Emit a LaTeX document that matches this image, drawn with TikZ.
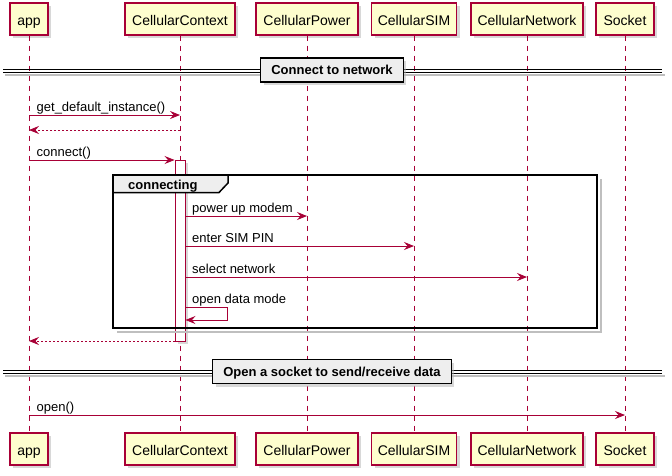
\documentclass[tikz,border=0pt]{standalone}
\usepackage{fontspec}
\setmainfont{Liberation Sans}
\usetikzlibrary{arrows.meta,shadows}
\definecolor{pborder}{HTML}{A80036}
\definecolor{pfill}{HTML}{FEFECE}
\definecolor{dfill}{HTML}{EEEEEE}
\begin{document}
\begin{tikzpicture}[x=1pt,y=-1pt,
  shad/.style={drop shadow={shadow xshift=3pt,shadow yshift=-3pt,fill=black!30}},
  part/.style={draw=pborder,fill=pfill,line width=1.1pt,minimum height=32pt,inner sep=0pt,
    text height=12.5pt,text depth=0pt,font=\fontsize{14}{16}\selectfont,shad},
  life/.style={draw=pborder,line width=0.8pt,dash pattern=on 5pt off 5pt},
  msg/.style={draw=pborder,line width=0.9pt,-{Stealth[length=10pt,width=8pt,inset=3.5pt]}},
  ret/.style={msg,dash pattern=on 2pt off 2pt},
  lbl/.style={anchor=base west,inner sep=0pt,font=\fontsize{13}{15}\selectfont},
  divbox/.style={draw=black,fill=dfill,line width=1.3pt,minimum height=24pt,inner xsep=10.5pt,inner ysep=0pt,
    text height=9.5pt,text depth=0pt,font=\bfseries\fontsize{13}{15}\selectfont,shad},
  dline/.style={draw=black,line width=0.9pt},
  dshadow/.style={draw=black!25,line width=1.5pt},
  act/.style={draw=pborder,fill=white,line width=0.9pt,minimum width=10pt,inner sep=0pt,shad}
]
\useasboundingbox (0,0) rectangle (672,475);

% participants (top)
\node[part,minimum width=38pt]  (pA)  at (29,19)  {app};
\node[part,minimum width=110pt] (pCC) at (180,19) {CellularContext};
\node[part,minimum width=102pt] (pCP) at (307,19) {CellularPower};
\node[part,minimum width=85pt]  (pCS) at (414,19) {CellularSIM};
\node[part,minimum width=112pt] (pCN) at (527,19) {CellularNetwork};
\node[part,minimum width=58pt]  (pSo) at (625,19) {Socket};
% participants (bottom)
\node[part,minimum width=38pt]  (bA)  at (29,449)  {app};
\node[part,minimum width=110pt] (bCC) at (180,449) {CellularContext};
\node[part,minimum width=102pt] (bCP) at (307,449) {CellularPower};
\node[part,minimum width=85pt]  (bCS) at (414,449) {CellularSIM};
\node[part,minimum width=112pt] (bCN) at (527,449) {CellularNetwork};
\node[part,minimum width=58pt]  (bSo) at (625,449) {Socket};

% lifelines
\foreach \t/\b in {pA/bA,pCC/bCC,pCP/bCP,pCS/bCS,pCN/bCN,pSo/bSo}
  \draw[life] (\t.south) -- (\b.north);

% divider 1
\draw[dshadow] (5,75) -- (665,75);
\draw[dline] (3,69.7) -- (662,69.7);
\draw[dline] (3,72.7) -- (662,72.7);
\node[divbox] (div1) at (332,70) {Connect to network};

% divider 2
\draw[dshadow] (5,376) -- (665,376);
\draw[dline] (3,370.7) -- (662,370.7);
\draw[dline] (3,373.7) -- (662,373.7);
\node[divbox] (div2) at (332,371.5) {Open a socket to send/receive data};

% activation
\node[act,minimum height=181pt] (act) at (180,250.5) {};

% group frame
\draw[draw=black!25,line width=2pt] (600.5,179) -- (600.5,331.5) -- (117,331.5);
\draw[line width=1.5pt] (113,175) rectangle (597,328);
\draw[line width=1.5pt,fill=dfill] (113,175) -- (228,175) -- (228,183) -- (219,192.5) -- (113,192.5) -- cycle;
\node[anchor=base west,inner sep=0pt,font=\bfseries\fontsize{13}{15}\selectfont] (gl) at (128,189.5) {connecting};

% message y positions
\coordinate (m1) at (0,115);
\coordinate (m2) at (0,130);
\coordinate (m3) at (0,160);
\coordinate (m4) at (0,216);
\coordinate (m5) at (0,246);
\coordinate (m6) at (0,277);
\coordinate (m7a) at (0,307);
\coordinate (m7b) at (0,320);
\coordinate (m8) at (0,341);
\coordinate (m9) at (0,415);

\draw[msg] (pA |- m1) -- (pCC |- m1);
\node[lbl] (l1) at (36.5,111) {get\_default\_instance()};
\draw[ret] (pCC |- m2) -- (pA |- m2);
\draw[msg] (pA |- m3) -- (act.west |- m3);
\node[lbl] (l3) at (36.5,156) {connect()};
\draw[msg] (act.east |- m4) -- (pCP |- m4);
\node[lbl] (l4) at (192,212) {power up modem};
\draw[msg] (act.east |- m5) -- (pCS |- m5);
\node[lbl] (l5) at (192,242) {enter SIM PIN};
\draw[msg] (act.east |- m6) -- (pCN |- m6);
\node[lbl] (l6) at (192,273) {select network};
\draw[msg] (act.east |- m7a) -- ++(42,0) |- (act.east |- m7b);
\node[lbl] (l7) at (192,303) {open data mode};
\draw[ret] (act.west |- m8) -- (pA |- m8);
\draw[msg] (pA |- m9) -- (pSo |- m9);
\node[lbl] (l9) at (36.5,411) {open()};
\end{tikzpicture}
\end{document}
